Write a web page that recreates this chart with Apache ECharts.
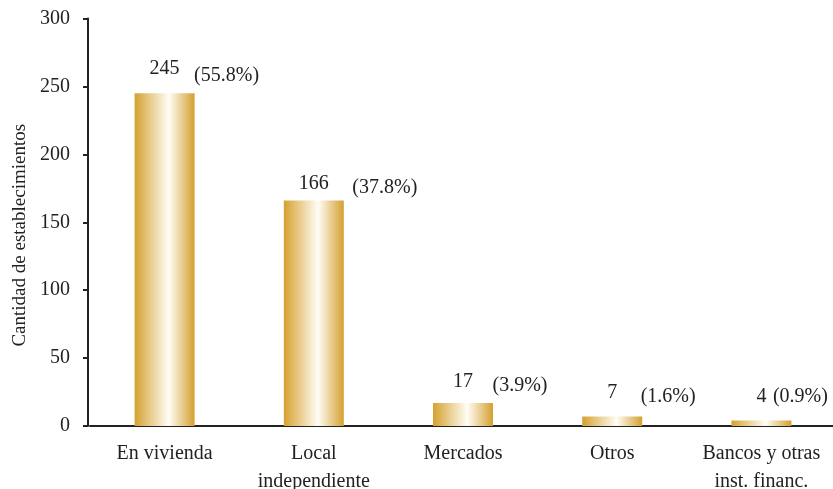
<!DOCTYPE html>
<html>
<head>
<meta charset="utf-8">
<script src="https://cdn.jsdelivr.net/npm/echarts@6/dist/echarts.min.js"></script>
<style>
  html, body { margin: 0; padding: 0; background: #fff; }
  #chart { width: 833px; height: 489px; }
</style>
</head>
<body>
<div id="chart"></div>
<script>
var categories = ['En vivienda', 'Local\nindependiente', 'Mercados', 'Otros', 'Bancos y otras\ninst. financ.']
var counts = [245, 166, 17, 7, 4]
var percents = ['(55.8%)', '(37.8%)', '(3.9%)', '(1.6%)', '(0.9%)']
var yTicks = { min: 0, max: 300, interval: 50 }

// label placement tweaks (px), per bar
var countDrop = [0, 7, 3, 0, 0]
var pctShiftX = [62, 71, 57, 56, 39]
var pctShiftY = [7, 11, 7, 4, 0]

var font = 'Liberation Serif, Times New Roman, serif'
var ink = '#222222'

var gold = new echarts.graphic.LinearGradient(0, 0, 1, 0, [
  { offset: 0, color: '#D5A12F' },
  { offset: 0.57, color: '#FFFDF6' },
  { offset: 1, color: '#D4A030' }
])

var chart = echarts.init(document.getElementById('chart'))
chart.setOption({
  animation: false,
  grid: {
    left: 90,
    width: 746,
    top: 18.5,
    bottom: 63,
    containLabel: false,
    outerBoundsMode: 'none'
  },
  xAxis: {
    type: 'category',
    data: categories,
    axisTick: { show: false },
    axisLine: { lineStyle: { color: ink, width: 2 } },
    axisLabel: {
      color: ink,
      fontFamily: font,
      fontSize: 20,
      lineHeight: 28,
      margin: 14,
      interval: 0
    }
  },
  yAxis: {
    type: 'value',
    min: yTicks.min,
    max: yTicks.max,
    interval: yTicks.interval,
    offset: 2,
    name: 'Cantidad de establecimientos',
    nameLocation: 'middle',
    nameGap: 52,
    nameTextStyle: {
      color: ink,
      fontFamily: font,
      fontSize: 19,
      padding: [0, 26, 0, 0]
    },
    splitLine: { show: false },
    axisLine: { show: true, lineStyle: { color: ink, width: 2 } },
    axisTick: { show: true, length: 5, lineStyle: { color: ink, width: 2 } },
    axisLabel: {
      color: ink,
      fontFamily: font,
      fontSize: 20,
      margin: 18
    }
  },
  series: [
    {
      type: 'bar',
      barWidth: 60,
      itemStyle: { color: gold },
      label: {
        show: true,
        position: 'top',
        distance: 14,
        color: ink,
        fontFamily: font,
        fontSize: 20
      },
      data: counts.map(function (v, i) {
        return { value: v, label: { offset: [0, countDrop[i]] } }
      })
    },
    {
      type: 'bar',
      barWidth: 60,
      barGap: '-100%',
      silent: true,
      itemStyle: { color: 'rgba(0,0,0,0)' },
      label: {
        show: true,
        position: 'top',
        distance: 14,
        color: ink,
        fontFamily: font,
        fontSize: 20
      },
      data: counts.map(function (v, i) {
        return {
          value: v,
          label: {
            formatter: percents[i],
            offset: [pctShiftX[i], pctShiftY[i]]
          }
        }
      })
    }
  ]
})
</script>
</body>
</html>
